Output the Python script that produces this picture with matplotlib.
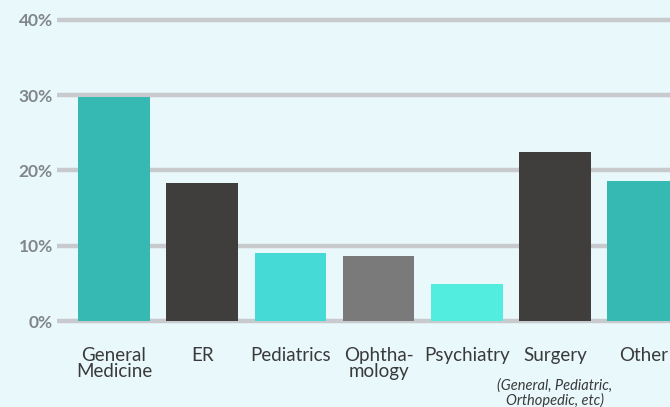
import matplotlib
matplotlib.use('Agg')
import matplotlib.pyplot as plt
import numpy as np

# Данные
categories = ['General\nMedicine', 'ER', 'Pediatrics', 'Ophtha-\nmology', 'Psychiatry', 'Surgery', 'Other']
shares = [29.8, 18.4, 9.0, 8.6, 4.9, 22.4, 18.6]
bar_colors = ['#36b9b2', '#403e3d', '#45dad6', '#7a7a7a', '#52eddf', '#403e3d', '#36b9b2']
y_ticks = [0, 10, 20, 30, 40]
surgery_note = '(General, Pediatric,\nOrthopedic, etc)'

bg = '#e9f8fb'
plt.rcParams['font.family'] = ['Lato', 'DejaVu Sans']

fig = plt.figure(figsize=(6.7, 4.07), dpi=100, facecolor=bg)
W, H = 670, 407
ax = fig.add_axes([57 / W, 82.2 / H, (720 - 57) / W, 308.6 / H])
ax.set_facecolor(bg)

x = np.arange(len(categories))
ax.bar(x, shares, width=0.81, color=bar_colors, zorder=3)

ax.set_xlim(-0.646, (720 - 114) / 88.2)
ax.set_ylim(-0.5, 40.5)
ax.set_yticks(y_ticks)
ax.set_yticklabels([f'{v}%' for v in y_ticks], fontsize=12.5, fontweight='bold', color='#80868a')
ax.set_xticks(x)
ax.set_xticklabels(categories, fontsize=13.5, color='#3a3a3a', linespacing=0.95)
ax.tick_params(axis='both', length=0)
ax.tick_params(axis='y', pad=3)
ax.tick_params(axis='x', pad=16)

ax.yaxis.grid(True, color='#c9cacd', linewidth=3.2, zorder=0)
ax.set_axisbelow(True)
for s in ax.spines.values():
    s.set_visible(False)

ax.text(x[5], -7.6, surgery_note, ha='center', va='top', fontsize=10.5,
        style='italic', color='#3a3a3a', clip_on=False, linespacing=1.0)

plt.savefig('out.png', dpi=100, facecolor=bg)
